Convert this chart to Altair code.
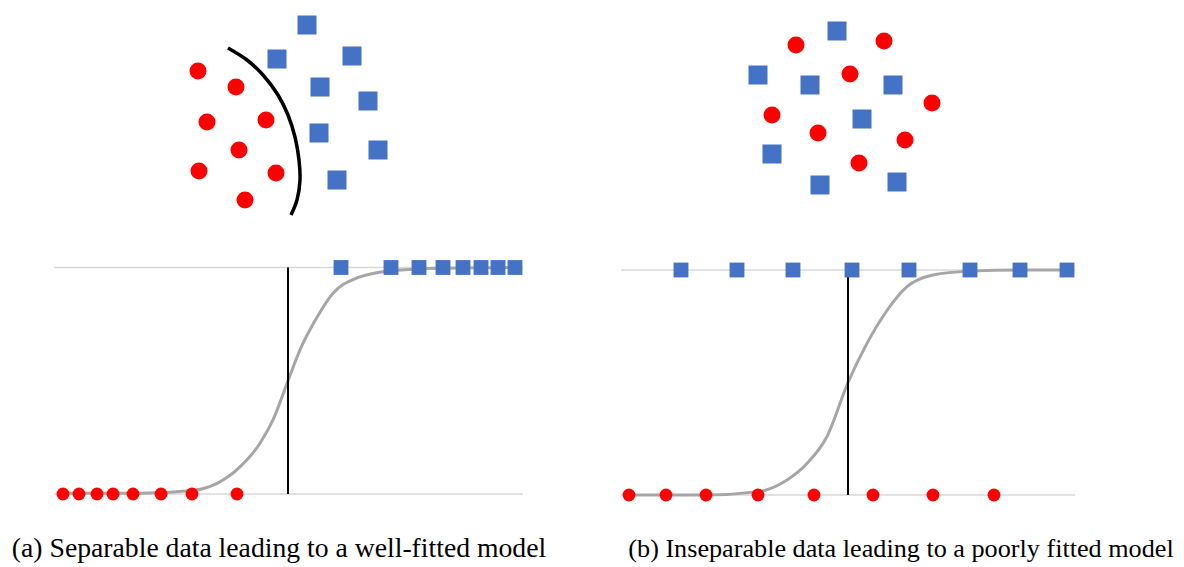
import altair as alt
import pandas as pd

# ---------------- data ----------------
# (a) separable cluster (figure units)
a_circle_x = [198, 236, 207, 266, 239, 199, 276, 245]
a_circle_y = [71, 87, 122, 120, 150, 171, 173, 200]
a_square_x = [307, 277, 352, 320, 368, 319, 378, 337]
a_square_y = [25, 59, 56, 87, 101, 133, 150, 180]
boundary_x = [228, 247, 263, 278, 288, 295, 299, 300, 297, 291]
boundary_y = [48, 60, 75, 95, 115, 137, 160, 180, 200, 215]

# (b) inseparable cluster (figure units)
b_circle_x = [796, 884, 850, 932, 772, 818, 905, 859]
b_circle_y = [45, 41, 74, 103, 115, 133, 140, 163]
b_square_x = [837, 758, 810, 893, 862, 772, 820, 897]
b_square_y = [31, 75, 85, 85, 119, 154, 185, 182]

# (a) logistic fit
a_neg_x = [63, 79, 97, 113, 133, 161, 192, 237]
a_pos_x = [341, 391, 419, 443, 463, 481, 498, 515]
a_curve_x = [63, 140, 192, 217, 240, 260, 273, 288, 300, 317, 333, 357, 390, 440, 515]
a_curve_p = [0.003, 0.003, 0.015, 0.047, 0.12, 0.224, 0.327, 0.5, 0.636, 0.78,
             0.886, 0.954, 0.985, 0.997, 1.0]
a_threshold = [288]

# (b) logistic fit
b_neg_x = [629, 666, 706, 758, 814, 873, 933, 994]
b_pos_x = [681, 737, 793, 852, 909, 970, 1020, 1067]
b_curve_x = [625, 706, 758, 787, 807, 827, 848, 867, 887, 907, 933, 970, 1020, 1073]
b_curve_p = [0.0, 0.0, 0.015, 0.067, 0.14, 0.26, 0.5, 0.674, 0.82, 0.926, 0.978,
             0.995, 1.0, 1.0]
b_threshold = [848]

captions = [
    "(a) Separable data leading to a well-fitted model",
    "(b) Inseparable data leading to a poorly fitted model",
]

# ---------------- styling ----------------
RED = "#FF0000"
BLUE = "#4472C4"
CURVE = "#A6A6A6"
GRID = "#D9D9D9"
W, H = 1168, 559

XS = alt.Scale(domain=[8, 8 + W], range=[0, W], nice=False, zero=False)
YC = alt.Scale(domain=[8, 8 + H], range=[0, H], nice=False, zero=False)
YA = alt.Scale(domain=[0, 1], range=[486, 259.5], nice=False, zero=False)
YB = alt.Scale(domain=[0, 1], range=[487, 262], nice=False, zero=False)


def xq(field="x"):
    return alt.X(f"{field}:Q", scale=XS, axis=None)


def yq(scale, field="y"):
    return alt.Y(f"{field}:Q", scale=scale, axis=None)


layers = []

# gridlines at p = 0 and p = 1
for ys, x0, x1 in [(YA, 54, 523), (YB, 621, 1075)]:
    layers.append(
        alt.Chart(pd.DataFrame({"p": [0, 1]}))
        .mark_rule(color=GRID, strokeWidth=1.5)
        .encode(x=alt.value(x0 - 8), x2=alt.value(x1 - 8), y=yq(ys, "p"))
    )

# fitted sigmoid curves
for ys, cx, cp in [(YA, a_curve_x, a_curve_p), (YB, b_curve_x, b_curve_p)]:
    layers.append(
        alt.Chart(pd.DataFrame({"x": cx, "p": cp}))
        .mark_line(color=CURVE, strokeWidth=3, interpolate="monotone")
        .encode(x=xq(), y=yq(ys, "p"))
    )

# thresholds
for ys, tx in [(YA, a_threshold), (YB, b_threshold)]:
    layers.append(
        alt.Chart(pd.DataFrame({"x": tx}))
        .mark_rule(color="black", strokeWidth=2)
        .encode(x=xq(), y=alt.Y(datum=0, scale=ys, axis=None), y2=alt.datum(1))
    )

# decision boundary arc in (a)
layers.append(
    alt.Chart(pd.DataFrame({"x": boundary_x, "y": boundary_y, "i": list(range(len(boundary_x)))}))
    .mark_line(color="black", strokeWidth=3.5, interpolate="catmull-rom")
    .encode(x=xq(), y=yq(YC), order=alt.Order("i:Q"))
)

# cluster points
for cx, cy in [(a_circle_x, a_circle_y), (b_circle_x, b_circle_y)]:
    layers.append(
        alt.Chart(pd.DataFrame({"x": cx, "y": cy}))
        .mark_circle(color=RED, size=290, opacity=1)
        .encode(x=xq(), y=yq(YC))
    )
for sx, sy in [(a_square_x, a_square_y), (b_square_x, b_square_y)]:
    layers.append(
        alt.Chart(pd.DataFrame({"x": sx, "y": sy}))
        .mark_square(color=BLUE, size=361, opacity=1)
        .encode(x=xq(), y=yq(YC))
    )

# logistic points
for ys, nx, px in [(YA, a_neg_x, a_pos_x), (YB, b_neg_x, b_pos_x)]:
    layers.append(
        alt.Chart(pd.DataFrame({"x": nx, "p": [0] * len(nx)}))
        .mark_circle(color=RED, size=165, opacity=1)
        .encode(x=xq(), y=yq(ys, "p"))
    )
    layers.append(
        alt.Chart(pd.DataFrame({"x": px, "p": [1] * len(px)}))
        .mark_square(color=BLUE, size=220, opacity=1)
        .encode(x=xq(), y=yq(ys, "p"))
    )

# captions
for cap, cxp, fs in zip(captions, [279, 901], [27.7, 26.2]):
    layers.append(
        alt.Chart(pd.DataFrame({"t": [cap]}))
        .mark_text(font="Liberation Serif", fontSize=fs, color="black",
                   align="center", baseline="alphabetic")
        .encode(x=alt.value(cxp - 8), y=alt.value(557 - 8), text="t:N")
    )

chart = (
    alt.layer(*layers)
    .resolve_scale(x="independent", y="independent")
    .properties(width=W, height=H, padding=0, autosize="none")
    .configure_view(strokeWidth=0)
)

chart.save("out.html", embed_options={"renderer": "svg", "actions": False})
